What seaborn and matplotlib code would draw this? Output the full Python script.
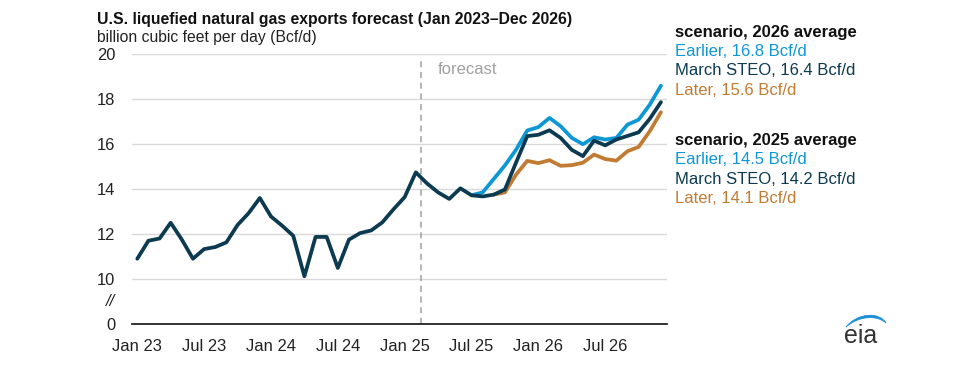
import matplotlib
matplotlib.use("Agg")
import numpy as np
import pandas as pd
import seaborn as sns
import matplotlib.pyplot as plt
from matplotlib.path import Path
from matplotlib.patches import PathPatch

# ---------------- data ----------------
month_index = list(range(48))  # Jan 2023 .. Dec 2026
tick_positions = [0, 6, 12, 18, 24, 30, 36, 42]
tick_labels = ["Jan 23", "Jul 23", "Jan 24", "Jul 24", "Jan 25", "Jul 25", "Jan 26", "Jul 26"]

march_steo = [10.90, 11.70, 11.80, 12.50, 11.75, 10.90, 11.33, 11.42, 11.63, 12.40,
              12.93, 13.60, 12.78, 12.37, 11.92, 10.12, 11.87, 11.87, 10.49, 11.75,
              12.04, 12.16, 12.52, 13.10, 13.64, 14.74, 14.25, 13.85, 13.56, 14.03,
              13.72, 13.67, 13.75, 13.98, 15.18, 16.35, 16.41, 16.61, 16.27, 15.74,
              15.46, 16.15, 15.94, 16.20, 16.36, 16.52, 17.12, 17.86]
earlier_start = 30
earlier = [13.72, 13.85, 14.45, 15.05, 15.75, 16.60, 16.75, 17.16, 16.79, 16.27,
           15.99, 16.30, 16.20, 16.27, 16.86, 17.08, 17.75, 18.59]
later_start = 32
later = [13.75, 13.85, 14.64, 15.25, 15.15, 15.28, 15.03, 15.06, 15.17, 15.53,
         15.33, 15.26, 15.68, 15.87, 16.57, 17.41]

y_tick_values = [8, 10, 12, 14, 16, 18, 20]
y_tick_labels = ["0", "10", "12", "14", "16", "18", "20"]

legend_2026 = ["Earlier, 16.8 Bcf/d", "March STEO, 16.4 Bcf/d", "Later, 15.6 Bcf/d"]
legend_2025 = ["Earlier, 14.5 Bcf/d", "March STEO, 14.2 Bcf/d", "Later, 14.1 Bcf/d"]

# ---------------- frame ----------------
df = pd.concat([
    pd.DataFrame({"month": month_index[earlier_start:], "value": earlier, "scenario": "Earlier"}),
    pd.DataFrame({"month": month_index[later_start:], "value": later, "scenario": "Later"}),
    pd.DataFrame({"month": month_index, "value": march_steo, "scenario": "March STEO"}),
], ignore_index=True)

sns.set_theme(style="white")
plt.rcParams["font.family"] = ["Liberation Sans", "DejaVu Sans"]

c_light = "#0e97d5"
c_dark = "#0c3a50"
c_orange = "#c27b33"
palette = {"Earlier": c_light, "Later": c_orange, "March STEO": c_dark}

fig = plt.figure(figsize=(9.6, 3.67), dpi=100)
ax = fig.add_axes([131.7 / 960, 1 - 324 / 367, (666.5 - 131.7) / 960, (324 - 54) / 367])

for y in [10, 12, 14, 16, 18, 20]:
    ax.axhline(y, color="#d9d9d9", lw=1.0, zorder=0)

sns.lineplot(data=df, x="month", y="value", hue="scenario",
             hue_order=["Earlier", "Later", "March STEO"], palette=palette,
             lw=2.7, legend=False, ax=ax, zorder=3)

ax.set_xlim(-0.5, 47.5)
ax.set_ylim(8, 20)
ax.set_xlabel("")
ax.set_ylabel("")

ax.set_xticks(tick_positions)
ax.set_xticklabels(tick_labels)
ax.set_xticks([p - 0.5 for p in tick_positions] + [47.5], minor=True)
ax.tick_params(axis="x", which="major", length=0, pad=10.5, labelsize=11.9, labelcolor="#222222")
ax.tick_params(axis="x", which="minor", length=4, width=1.2, color="#222222", direction="out")

ax.set_yticks(y_tick_values)
ax.set_yticklabels(y_tick_labels)
ax.tick_params(axis="y", length=0, pad=12, labelsize=11.9, labelcolor="#222222")

for s in ["top", "right", "left"]:
    ax.spines[s].set_visible(False)
ax.spines["bottom"].set_color("#222222")
ax.spines["bottom"].set_linewidth(1.3)

ax.text(-0.031, 9, "//", transform=ax.get_yaxis_transform(), ha="right", va="center",
        fontsize=11.9, color="#222222", style="italic")

# forecast divider
ax.plot([25.5, 25.5], [8, 19.8], color="#a0a0a0", lw=1.1, ls=(0, (4, 3)), zorder=2)
ax.text(26.98, 19.33, "forecast", color="#a0a0a0", fontsize=12, va="center", ha="left")

# titles
fig.text(97 / 960, 1 - 24 / 367, "U.S. liquefied natural gas exports forecast (Jan 2023\u2013Dec 2026)",
         fontsize=11.3, weight="bold", color="#111111", va="baseline", ha="left")
fig.text(97 / 960, 1 - 42.3 / 367, "billion cubic feet per day (Bcf/d)",
         fontsize=11.3, color="#222222", va="baseline", ha="left")

# right-hand annotations
x0 = 675 / 960
colors = [c_light, c_dark, c_orange]
fig.text(x0, 1 - 36.7 / 367, "scenario, 2026 average", fontsize=12, weight="bold",
         color="#111111", va="baseline")
for k, (t, c) in enumerate(zip(legend_2026, colors)):
    fig.text(x0, 1 - (55.9 + 19.3 * k) / 367, t, fontsize=12, color=c, va="baseline")
fig.text(x0, 1 - 145 / 367, "scenario, 2025 average", fontsize=12, weight="bold",
         color="#111111", va="baseline")
for k, (t, c) in enumerate(zip(legend_2025, colors)):
    fig.text(x0, 1 - (164.2 + 19.3 * k) / 367, t, fontsize=12, color=c, va="baseline")

# eia logo
fig.text(844 / 960, 1 - 343 / 367, "eia", fontsize=18, color="#333333", va="baseline",
         ha="left")
W, H = 960.0, 367.0
verts = [(846 / W, 1 - 327 / H), (858 / W, 1 - 312 / H), (880 / W, 1 - 312 / H), (886 / W, 1 - 323 / H),
         (878 / W, 1 - 315.5 / H), (860 / W, 1 - 315 / H), (846 / W, 1 - 327 / H)]
codes = [Path.MOVETO, Path.CURVE4, Path.CURVE4, Path.CURVE4, Path.CURVE4, Path.CURVE4, Path.CURVE4]
fig.patches.append(PathPatch(Path(verts, codes), transform=fig.transFigure,
                             facecolor="#1a8fd6", edgecolor="#1a8fd6", lw=0.5))

fig.savefig("out.png", dpi=100)
